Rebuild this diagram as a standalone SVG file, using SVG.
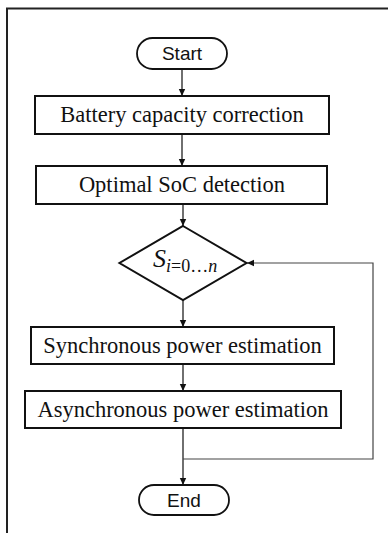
<svg xmlns="http://www.w3.org/2000/svg" width="388" height="533" viewBox="0 0 388 533">
<style>
.box{fill:#fff;stroke:#111;stroke-width:2}
.term{fill:#fff;stroke:#111;stroke-width:1.8}
.lbl{font-family:"Liberation Serif","Times New Roman",serif;font-size:22.5px;fill:#111;text-anchor:middle}
.sans{font-family:"Liberation Sans",Arial,sans-serif;font-size:19px;fill:#111;text-anchor:middle}
.ln{fill:none;stroke:#222;stroke-width:1.3}
.fb{fill:none;stroke:#444;stroke-width:1.2}
</style>
<defs>
<marker id="ah" markerWidth="8" markerHeight="8" refX="7" refY="4" orient="auto" markerUnits="userSpaceOnUse">
<path d="M0,0.8 L7,4 L0,7.2 Z" fill="#111"/>
</marker>
</defs>
<rect width="388" height="533" fill="#fff"/>
<g id="frame">
<line x1="6" y1="8.5" x2="388" y2="8.5" stroke="#222" stroke-width="2"/>
<line x1="7" y1="8" x2="7" y2="533" stroke="#222" stroke-width="2"/>
</g>
<g id="connectors">
<line class="ln" x1="182" y1="69" x2="182" y2="96" marker-end="url(#ah)"/>
<line class="ln" x1="182" y1="134" x2="182" y2="166" marker-end="url(#ah)"/>
<line class="ln" x1="183" y1="204" x2="183" y2="226" marker-end="url(#ah)"/>
<line class="ln" x1="183" y1="300" x2="183" y2="327" marker-end="url(#ah)"/>
<line class="ln" x1="183" y1="364" x2="183" y2="391" marker-end="url(#ah)"/>
<line class="ln" x1="183" y1="428" x2="183" y2="485" marker-end="url(#ah)"/>
<polyline class="fb" points="183,459 373,459 373,263 247,263" marker-end="url(#ah)"/>
</g>
<g id="start">
<rect class="term" x="137" y="38" width="90" height="31" rx="15.5"/>
<text class="sans" x="182" y="60">Start</text>
</g>
<g id="battery">
<rect class="box" x="35" y="96" width="294" height="38"/>
<text class="lbl" x="182" y="122">Battery capacity correction</text>
</g>
<g id="optimal">
<rect class="box" x="36" y="166" width="291" height="38"/>
<text class="lbl" x="182" y="192">Optimal SoC detection</text>
</g>
<g id="decision">
<polygon class="box" points="183,226 246.5,263 183,300 119.5,263"/>
<text x="153" y="267" font-family="'Liberation Serif','Times New Roman',serif" font-size="26" font-style="italic" fill="#111">S<tspan font-size="18" dy="5">i</tspan><tspan font-size="18" font-style="normal">=0…</tspan><tspan font-size="18">n</tspan></text>
</g>
<g id="sync">
<rect class="box" x="31" y="327" width="303" height="37"/>
<text class="lbl" x="182.5" y="353">Synchronous power estimation</text>
</g>
<g id="async">
<rect class="box" x="25" y="391" width="316" height="37"/>
<text class="lbl" x="183" y="417">Asynchronous power estimation</text>
</g>
<g id="end">
<rect class="term" x="139" y="485" width="90" height="30" rx="15"/>
<text class="sans" x="184" y="507">End</text>
</g>
</svg>
